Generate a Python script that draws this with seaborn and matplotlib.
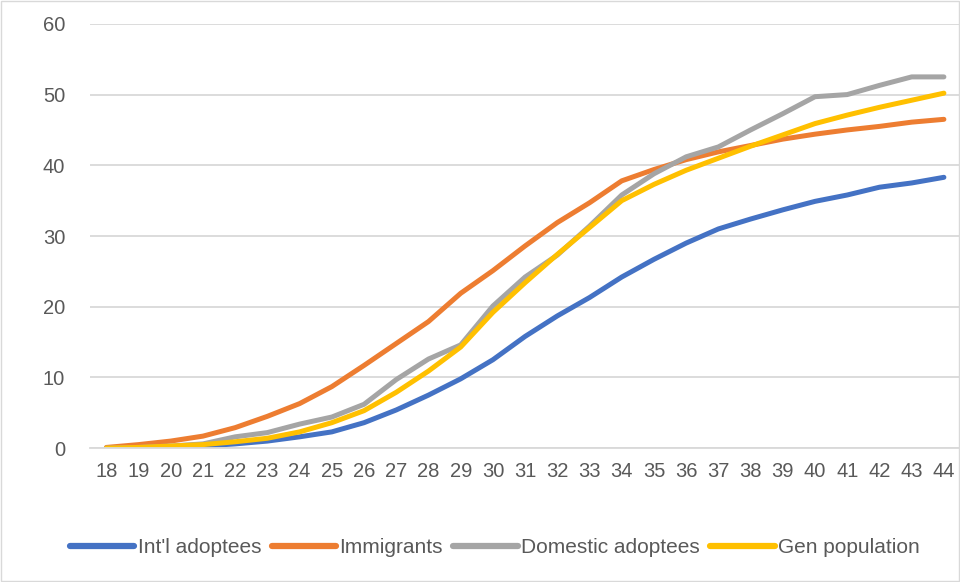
import numpy as np
import pandas as pd
import seaborn as sns
import matplotlib
import matplotlib.pyplot as plt
from matplotlib.patches import Rectangle

matplotlib.use('Agg')
sns.set_style("white")
plt.rcParams['font.family'] = ['Liberation Sans', 'DejaVu Sans']

# -------------------------------Datos
ages = list(range(18, 45))

intl_adoptees = [0.0, 0.0, 0.1, 0.3, 0.6, 1.0, 1.6, 2.3, 3.6, 5.4, 7.5, 9.8, 12.5, 15.8,
                 18.7, 21.3, 24.2, 26.7, 29.0, 31.0, 32.4, 33.7, 34.9, 35.8, 36.9, 37.5, 38.3]
immigrants = [0.1, 0.5, 1.0, 1.7, 2.9, 4.5, 6.3, 8.7, 11.7, 14.8, 17.9, 21.9, 25.1, 28.6,
              31.9, 34.7, 37.8, 39.4, 40.8, 41.9, 42.8, 43.7, 44.4, 45.0, 45.5, 46.1, 46.5]
domestic_adoptees = [0.0, 0.1, 0.3, 0.6, 1.6, 2.2, 3.4, 4.4, 6.2, 9.7, 12.6, 14.6, 20.1, 24.2,
                     27.3, 31.4, 35.8, 38.8, 41.2, 42.6, 45.0, 47.3, 49.7, 50.0, 51.3, 52.5, 52.5]
gen_population = [0.0, 0.1, 0.3, 0.5, 0.9, 1.4, 2.3, 3.6, 5.3, 7.9, 10.9, 14.3, 19.2, 23.4,
                  27.4, 31.2, 35.0, 37.3, 39.3, 41.0, 42.7, 44.3, 45.9, 47.1, 48.2, 49.2, 50.2]

series_names = ["Int'l adoptees", "Immigrants", "Domestic adoptees", "Gen population"]
colores = ['#4472C4', '#ED7D31', '#A5A5A5', '#FFC000']

df = pd.DataFrame({
    'Age': ages,
    series_names[0]: intl_adoptees,
    series_names[1]: immigrants,
    series_names[2]: domestic_adoptees,
    series_names[3]: gen_population,
}).melt('Age', var_name='Serie', value_name='Valor')

fig = plt.figure(figsize=(9.6, 5.82), dpi=100)
ax = fig.add_axes([0.094, 0.230, 0.906, 0.729])

sns.lineplot(data=df, x='Age', y='Valor', hue='Serie', hue_order=series_names,
             palette=colores, linewidth=3.6, ax=ax, solid_capstyle='round')

ax.set_xlim(17.5, 44.5)
ax.set_ylim(0, 60)
ax.set_xticks(ages)
ax.set_xticklabels([str(a) for a in ages])
ax.set_yticks(range(0, 61, 10))
ax.yaxis.grid(True, color='#d9d9d9', linewidth=1.3)
ax.set_axisbelow(True)
for s in ['top', 'right', 'left']:
    ax.spines[s].set_visible(False)
ax.spines['bottom'].set_color('#d9d9d9')
ax.spines['bottom'].set_linewidth(1.3)
ax.tick_params(axis='both', length=0, labelsize=14.5, colors='#595959')
ax.tick_params(axis='x', pad=10)
ax.tick_params(axis='y', pad=18)
ax.set_xlabel('')
ax.set_ylabel('')

leg = ax.legend(loc='center', bbox_to_anchor=(0.465, -0.235), ncol=4, frameon=False,
                fontsize=15, handlelength=3.1, handletextpad=0.15, columnspacing=0.5)
for t in leg.get_texts():
    t.set_color('#595959')
for h in leg.get_lines():
    h.set_linewidth(4.5)

# borde del gráfico
fig.patches.append(Rectangle((0.001, 0.001), 0.998, 0.997, transform=fig.transFigure,
                             fill=False, edgecolor='#d9d9d9', linewidth=1))

plt.savefig('out.png', dpi=100)
